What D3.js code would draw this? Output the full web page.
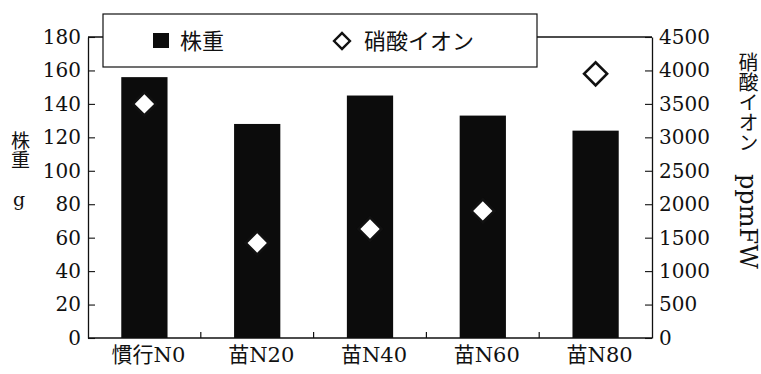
<!DOCTYPE html>
<html>
<head>
<meta charset="utf-8">
<script src="https://cdn.jsdelivr.net/npm/d3@7/dist/d3.min.js"></script>
<style>
  html, body { margin: 0; padding: 0; background: #fff; }
  svg { display: block; }
  .num { font-family: "DejaVu Serif", "Noto Sans CJK JP", serif; font-size: 20px; fill: #111; }
  .jp { font-family: "DejaVu Serif", "Noto Sans CJK JP", serif; fill: #111; }
</style>
</head>
<body>
<svg id="chart" width="761" height="374"></svg>
<script>
// Plant weight (g) and nitrate ion content (ppmFW) per treatment
const categories = ["慣行N0", "苗N20", "苗N40", "苗N60", "苗N80"];
const plantWeight = [156, 128, 145, 133, 124];
const nitrate = [3500, 1420, 1630, 1900, 3950];
const leftTicks = [0, 20, 40, 60, 80, 100, 120, 140, 160, 180];
const rightTicks = [0, 500, 1000, 1500, 2000, 2500, 3000, 3500, 4000, 4500];

const svg = d3.select("#chart");
const plot = { left: 88, right: 652, top: 37, bottom: 338 };
const ink = "#111";

const slot = d3.scaleBand().domain(categories).range([plot.left, plot.right]).padding(0);
const barW = slot.bandwidth() * 0.41;
const yL = d3.scaleLinear().domain([0, 180]).range([plot.bottom, plot.top]);
const yR = d3.scaleLinear().domain([0, 4500]).range([plot.bottom, plot.top]);

// Frame: top and bottom edges of the plot
svg.append("line").attr("x1", plot.left).attr("x2", plot.right)
  .attr("y1", plot.top).attr("y2", plot.top).attr("stroke", ink).attr("stroke-width", 1.3);
svg.append("line").attr("x1", plot.left).attr("x2", plot.right)
  .attr("y1", plot.bottom).attr("y2", plot.bottom).attr("stroke", ink).attr("stroke-width", 1.3);

// Bars
svg.append("g").selectAll("rect").data(categories).join("rect")
  .attr("x", (d) => slot(d) + (slot.bandwidth() - barW) / 2)
  .attr("width", barW)
  .attr("y", (d, i) => yL(plantWeight[i]))
  .attr("height", (d, i) => yL(0) - yL(plantWeight[i]))
  .attr("fill", "#0c0c0c");

// Category separators on the bottom edge
svg.append("g").selectAll("line").data(categories.slice(1)).join("line")
  .attr("x1", (d) => slot(d)).attr("x2", (d) => slot(d))
  .attr("y1", plot.bottom).attr("y2", plot.bottom - 6)
  .attr("stroke", ink).attr("stroke-width", 1.2);

// Category labels
svg.append("g").selectAll("text").data(categories).join("text")
  .attr("class", "jp")
  .attr("x", (d) => slot(d) + slot.bandwidth() / 2 + 4)
  .attr("y", 362)
  .attr("text-anchor", "middle")
  .attr("font-size", 21)
  .text((d) => d);

// Left axis (ticks pointing inward)
const axL = svg.append("g").attr("transform", `translate(${plot.left},0)`)
  .call(d3.axisLeft(yL).tickValues(leftTicks).tickFormat(d3.format("d"))
    .tickSizeInner(-7).tickSizeOuter(0).tickPadding(7));
axL.select(".domain").attr("stroke", ink).attr("stroke-width", 1.3);
axL.selectAll(".tick line").attr("stroke", ink).attr("stroke-width", 1.1);
axL.selectAll(".tick text").attr("class", "num").attr("font-size", null).attr("font-family", null);

// Right axis (ticks pointing inward)
const axR = svg.append("g").attr("transform", `translate(${plot.right},0)`)
  .call(d3.axisRight(yR).tickValues(rightTicks).tickFormat(d3.format("d"))
    .tickSizeInner(-7).tickSizeOuter(0).tickPadding(7));
axR.select(".domain").attr("stroke", ink).attr("stroke-width", 1.3);
axR.selectAll(".tick line").attr("stroke", ink).attr("stroke-width", 1.1);
axR.selectAll(".tick text").attr("class", "num").attr("font-size", null).attr("font-family", null);

// Nitrate diamonds
const diamond = d3.symbol().type(d3.symbolSquare).size(2 * 11.5 * 11.5);
svg.append("g").selectAll("path").data(categories).join("path")
  .attr("d", diamond)
  .attr("transform", (d, i) =>
    `translate(${slot(d) + slot.bandwidth() / 2},${yR(nitrate[i])}) rotate(45)`)
  .attr("fill", "#fff")
  .attr("stroke", ink)
  .attr("stroke-width", 2.6);

// Legend box
const lg = svg.append("g");
lg.append("rect").attr("x", 103).attr("y", 14).attr("width", 434).attr("height", 53)
  .attr("fill", "#fff").attr("stroke", ink).attr("stroke-width", 1.2);
lg.append("rect").attr("x", 153).attr("y", 33).attr("width", 16).attr("height", 15).attr("fill", "#0c0c0c");
lg.append("text").attr("class", "jp").attr("x", 180).attr("y", 48.5).attr("font-size", 22).text("株重");
lg.append("path").attr("d", d3.symbol().type(d3.symbolSquare).size(2 * 8 * 8))
  .attr("transform", "translate(342,41) rotate(45)")
  .attr("fill", "#fff").attr("stroke", ink).attr("stroke-width", 2.3);
lg.append("text").attr("class", "jp").attr("x", 364).attr("y", 48.5).attr("font-size", 22).text("硝酸イオン");

// Left axis title: "株重" in vertical writing, unit below
svg.append("text").attr("class", "jp")
  .attr("x", 19).attr("y", 131)
  .attr("font-size", 19)
  .style("writing-mode", "vertical-rl")
  .text("株重");
svg.append("text").attr("class", "jp").attr("font-size", 19).attr("text-anchor", "middle")
  .attr("x", 19).attr("y", 206).text("g");

// Right axis title: name in vertical writing, unit turned along the axis
svg.append("text").attr("class", "jp")
  .attr("x", 747).attr("y", 52)
  .attr("font-size", 20)
  .style("writing-mode", "vertical-rl")
  .text("硝酸イオン");
svg.append("text").attr("class", "jp")
  .attr("transform", "translate(740,174) rotate(90)")
  .attr("font-size", 24)
  .text("ppmFW");
</script>
</body>
</html>
